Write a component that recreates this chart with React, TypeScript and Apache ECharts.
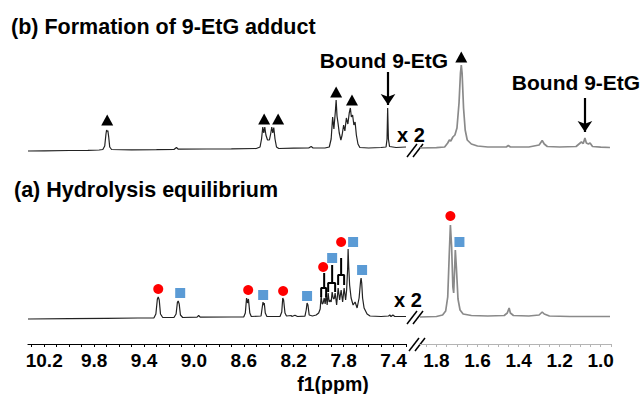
import React, { useEffect, useRef } from "react";
import * as echarts from "echarts";

// ---- spectra: [ppm, intensity above local baseline] ----
const specBLeft: [number, number][] = [
  [10.33, 0], [10.2, 0.2], [10.0, 0.5], [9.85, 0.6], [9.76, 1], [9.73, 1.5], [9.715, 5], [9.705, 17], [9.7, 21], [9.695, 19.5], [9.69, 20.5], [9.683, 14], [9.675, 4], [9.66, 1.5],
  [9.5, 1.2], [9.3, 1.3], [9.16, 1.5], [9.14, 3.5], [9.125, 1.8], [8.9, 2], [8.7, 2.2], [8.5, 2.5],
  [8.47, 4], [8.458, 12], [8.448, 24], [8.44, 18], [8.432, 24], [8.423, 16], [8.41, 11], [8.395, 11], [8.385, 17], [8.376, 24], [8.368, 18], [8.36, 23.5], [8.35, 12], [8.338, 4], [8.32, 2.5],
  [8.2, 2.8], [8.08, 3], [8.06, 4.5], [8.045, 3], [7.95, 3], [7.915, 4], [7.9, 12], [7.888, 34], [7.878, 22], [7.866, 40], [7.86, 51], [7.853, 35], [7.845, 28], [7.835, 18], [7.822, 11],
  [7.812, 16], [7.8, 26], [7.79, 20], [7.778, 33], [7.766, 27], [7.755, 38], [7.746, 43], [7.738, 34], [7.728, 36], [7.718, 26], [7.708, 29], [7.698, 16], [7.685, 7], [7.67, 3.5],
  [7.6, 3], [7.5, 3.5], [7.46, 4], [7.452, 12], [7.447, 43], [7.441, 12], [7.432, 4.5], [7.38, 3.5], [7.3, 4],
];
const specBRight: [number, number][] = [
  [1.88, 0], [1.8, 0.3], [1.76, 1], [1.745, 5], [1.737, 8], [1.73, 7], [1.72, 11], [1.71, 13], [1.7, 20], [1.69, 45], [1.683, 75], [1.679, 83], [1.675, 75], [1.668, 40], [1.66, 18], [1.65, 8], [1.63, 4],
  [1.6, 2], [1.55, 1], [1.46, 1], [1.45, 2.5], [1.44, 1], [1.35, 1], [1.3, 3], [1.285, 7.5], [1.275, 4], [1.26, 1.5], [1.2, 1], [1.12, 1.5], [1.1, 5], [1.094, 6], [1.085, 4.5], [1.077, 10],
  [1.07, 5], [1.06, 4], [1.052, 5], [1.04, 1.5], [1.0, 0.8], [0.955, 0.5],
];
const specALeft: [number, number][] = [
  [10.33, 0], [10.0, 0.3], [9.7, 0.6], [9.45, 1], [9.32, 1.2], [9.305, 5], [9.293, 20], [9.286, 22], [9.278, 19], [9.268, 5], [9.25, 1.5],
  [9.16, 1.5], [9.143, 5], [9.132, 17], [9.126, 18], [9.118, 15], [9.108, 4], [9.09, 1.5], [8.975, 1.8], [8.962, 3.5], [8.95, 1.8], [8.7, 2], [8.6, 2.2],
  [8.588, 6], [8.578, 21], [8.57, 16], [8.563, 20], [8.552, 6], [8.54, 2.5], [8.462, 3], [8.452, 12], [8.446, 17], [8.441, 14], [8.436, 16], [8.428, 6], [8.415, 2.5],
  [8.31, 2.5], [8.296, 7], [8.288, 21], [8.281, 19], [8.27, 6], [8.258, 3], [8.22, 3.5], [8.215, 2.5], [8.19, 3.8], [8.17, 2.5], [8.11, 2.8], [8.1, 9], [8.093, 16], [8.086, 14], [8.076, 4],
  [8.05, 3], [8.02, 4], [8.0, 6], [7.988, 10], [7.98, 23], [7.972, 15], [7.964, 16], [7.956, 21], [7.948, 15], [7.94, 25], [7.932, 14], [7.924, 26], [7.916, 17], [7.908, 19], [7.9, 17],
  [7.892, 27], [7.884, 21], [7.876, 20], [7.868, 26], [7.856, 14], [7.844, 31], [7.832, 19], [7.82, 29], [7.808, 17], [7.796, 31], [7.784, 19], [7.776, 29], [7.768, 50], [7.764, 70],
  [7.759, 52], [7.752, 34], [7.74, 21], [7.724, 14], [7.708, 17], [7.692, 11], [7.676, 21], [7.664, 38], [7.66, 41], [7.655, 36], [7.648, 21], [7.636, 11], [7.612, 5], [7.588, 3],
  [7.5, 2.5], [7.44, 3], [7.43, 4], [7.42, 2.5], [7.405, 4], [7.39, 2.5], [7.3, 2.5],
];
const specARight: [number, number][] = [
  [1.88, 0], [1.8, 0.5], [1.77, 2], [1.755, 6], [1.745, 20], [1.738, 60], [1.732, 92], [1.726, 70], [1.72, 30], [1.716, 24], [1.712, 45], [1.708, 67], [1.703, 50], [1.695, 18], [1.685, 7],
  [1.67, 3], [1.63, 1.5], [1.55, 1], [1.47, 1.5], [1.455, 4], [1.446, 9], [1.44, 4], [1.425, 1.5], [1.35, 1], [1.3, 2], [1.285, 5], [1.275, 3], [1.25, 1], [1.15, 0.5], [0.955, 0.5],
];

// ---- peak markers ----
const trianglesBLeft: [number, number][] = [[9.695, 31], [8.437, 32], [8.325, 32], [7.86, 59], [7.733, 51]];
const trianglesBRight: [number, number][] = [[1.679, 91]];
const circlesALeft: [number, number][] = [[9.286, 30], [8.565, 29], [8.285, 28], [7.964, 52], [7.82, 77]];
const squaresALeft: [number, number][] = [[9.11, 26], [8.445, 24], [8.093, 23], [7.892, 61], [7.724, 77], [7.652, 49]];
const circlesARight: [number, number][] = [[1.732, 101]];
const squaresARight: [number, number][] = [[1.688, 75]];

// multiplet brackets in (a): [leftLeg, rightLeg, stem, bottom, top, stemTop]
const bracketsA: number[][] = [
  [7.98, 7.94, 7.956, 22, 31, 46],
  [7.924, 7.868, 7.892, 27, 36, 54],
  [7.844, 7.796, 7.82, 34, 44, 61],
];
// "Bound 9-EtG" arrows: [ppm, start, end]
const arrowBLeft = [7.444, 79, 46];
const arrowBRight = [1.077, 50, 16];

// axis tick labels
const leftTickLabels = ["10.2", "9.8", "9.4", "9.0", "8.6", "8.2", "7.8", "7.4"];
const rightTickLabels = ["1.8", "1.6", "1.4", "1.2", "1.0"];

// baseline offsets (vertical stacking)
const OFF_B_LEFT = 193;
const OFF_B_RIGHT = 196;
const OFF_A_LEFT = 25;
const OFF_A_RIGHT = 27;

const FONT = '"Liberation Sans", Arial, sans-serif';

const shift = (arr: [number, number][] | number[][], off: number) => arr.map((p) => [p[0], p[1] + off]);

function bracketPath(b: number[], off: number) {
  const [l, r, m, bot, top, st] = b;
  return [[l, bot + off], [l, top + off], [m, top + off], [m, st + off], [m, top + off], [r, top + off], [r, bot + off]];
}

export default function App() {
  const ref = useRef<HTMLDivElement>(null);
  useEffect(() => {
    if (!ref.current) return;
    const chart = echarts.init(ref.current, undefined, { renderer: "svg" });
    const leftLabelSet = new Set(leftTickLabels);
    const rightLabelSet = new Set(rightTickLabels);
    const axisLabelStyle = { fontSize: 19, fontWeight: "bold" as const, fontFamily: FONT, color: "#000", margin: 7 };
    const darkLine = { color: "#222", width: 1.2 };
    const greyLine = { color: "#8a8a8a", width: 1.7 };
    const mk = (color: string) => ({ color, opacity: 1 });

    const series: any[] = [
      { type: "line", xAxisIndex: 0, yAxisIndex: 0, data: shift(specBLeft, OFF_B_LEFT), showSymbol: false, symbol: "none", lineStyle: darkLine, silent: true,
        markLine: { silent: true, symbol: ["none", "arrow"], symbolSize: 11, label: { show: false }, lineStyle: { type: "solid", color: "#000", width: 2.2, opacity: 1 },
          data: [[{ coord: [arrowBLeft[0], arrowBLeft[1] + OFF_B_LEFT] }, { coord: [arrowBLeft[0], arrowBLeft[2] + OFF_B_LEFT] }]] } },
      { type: "line", xAxisIndex: 0, yAxisIndex: 0, data: shift(specALeft, OFF_A_LEFT), showSymbol: false, symbol: "none", lineStyle: darkLine, silent: true },
      { type: "line", xAxisIndex: 1, yAxisIndex: 1, data: shift(specBRight, OFF_B_RIGHT), showSymbol: false, symbol: "none", lineStyle: greyLine, silent: true,
        markLine: { silent: true, symbol: ["none", "arrow"], symbolSize: 11, label: { show: false }, lineStyle: { type: "solid", color: "#000", width: 2.2, opacity: 1 },
          data: [[{ coord: [arrowBRight[0], arrowBRight[1] + OFF_B_RIGHT] }, { coord: [arrowBRight[0], arrowBRight[2] + OFF_B_RIGHT] }]] } },
      { type: "line", xAxisIndex: 1, yAxisIndex: 1, data: shift(specARight, OFF_A_RIGHT), showSymbol: false, symbol: "none", lineStyle: greyLine, silent: true },
      ...bracketsA.map((b) => ({ type: "line", xAxisIndex: 0, yAxisIndex: 0, data: bracketPath(b, OFF_A_LEFT), showSymbol: false, symbol: "none", lineStyle: { color: "#000", width: 2 }, silent: true })),
      { type: "scatter", xAxisIndex: 0, yAxisIndex: 0, data: shift(trianglesBLeft, OFF_B_LEFT), symbol: "triangle", symbolSize: [12, 11], itemStyle: mk("#000"), silent: true },
      { type: "scatter", xAxisIndex: 1, yAxisIndex: 1, data: shift(trianglesBRight, OFF_B_RIGHT), symbol: "triangle", symbolSize: [12, 11], itemStyle: mk("#000"), silent: true },
      { type: "scatter", xAxisIndex: 0, yAxisIndex: 0, data: shift(circlesALeft, OFF_A_LEFT), symbol: "circle", symbolSize: 10, itemStyle: mk("#ff0000"), silent: true },
      { type: "scatter", xAxisIndex: 0, yAxisIndex: 0, data: shift(squaresALeft, OFF_A_LEFT), symbol: "rect", symbolSize: 10, itemStyle: mk("#5b9bd5"), silent: true },
      { type: "scatter", xAxisIndex: 1, yAxisIndex: 1, data: shift(circlesARight, OFF_A_RIGHT), symbol: "circle", symbolSize: 10, itemStyle: mk("#ff0000"), silent: true },
      { type: "scatter", xAxisIndex: 1, yAxisIndex: 1, data: shift(squaresARight, OFF_A_RIGHT), symbol: "rect", symbolSize: 10, itemStyle: mk("#5b9bd5"), silent: true },
    ];

    const txt = (text: string, x: number, y: number, size: number, align: string = "left") => ({
      type: "text", x, y, silent: true,
      style: { text, fontSize: size, fontWeight: "bold", fontFamily: FONT, fill: "#000", align, verticalAlign: "middle", textAlign: align, textVerticalAlign: "middle" },
    });
    const brk = (x: number, y: number) => [
      { type: "line", silent: true, shape: { x1: x, y1: y + 7, x2: x + 10, y2: y - 6 }, style: { stroke: "#000", lineWidth: 1.5 } },
      { type: "line", silent: true, shape: { x1: x + 6, y1: y + 7, x2: x + 16, y2: y - 6 }, style: { stroke: "#000", lineWidth: 1.5 } },
    ];

    chart.setOption({
      animation: false,
      backgroundColor: "#fff",
      grid: [
        { left: 28, width: 378, top: 40, height: 304 },
        { left: 420, width: 191, top: 40, height: 304 },
      ],
      xAxis: [
        { type: "value", gridIndex: 0, min: 7.3, max: 10.33, interval: 0.1, inverse: true, splitLine: { show: false },
          axisLine: { lineStyle: { color: "#000", width: 1.2 } }, axisTick: { length: 3, lineStyle: { color: "#000" } },
          axisLabel: { ...axisLabelStyle, showMinLabel: true, showMaxLabel: false, formatter: (v: number) => { const s = v.toFixed(1); return leftLabelSet.has(s) && Math.abs(v - parseFloat(s)) < 1e-6 ? s : ""; } } },
        { type: "value", gridIndex: 1, min: 0.95, max: 1.88, interval: 0.05, inverse: true, splitLine: { show: false },
          axisLine: { lineStyle: { color: "#b4b4b4", width: 1.2 } }, axisTick: { length: 3, lineStyle: { color: "#b4b4b4" } },
          axisLabel: { ...axisLabelStyle, showMinLabel: true, showMaxLabel: false, formatter: (v: number) => { const s = v.toFixed(1); return rightLabelSet.has(s) && Math.abs(v - parseFloat(s)) < 1e-6 ? s : ""; } } },
      ],
      yAxis: [
        { type: "value", gridIndex: 0, min: 0, max: 304, show: false },
        { type: "value", gridIndex: 1, min: 0, max: 304, show: false },
      ],
      series,
      graphic: [
        txt("(b) Formation of 9-EtG adduct", 11, 27, 21.5),
        txt("(a) Hydrolysis equilibrium", 14, 190, 21.5),
        txt("Bound 9-EtG", 384, 60, 21, "center"),
        txt("Bound 9-EtG", 576, 82, 21, "center"),
        txt("x 2", 411, 135, 20, "center"),
        txt("x 2", 408, 300, 20, "center"),
        txt("f1(ppm)", 333, 384, 19.5, "center"),
        ...brk(407, 150),
        ...brk(407, 317),
        ...brk(409, 344),
      ],
    });
    return () => chart.dispose();
  }, []);
  return <div ref={ref} style={{ position: "fixed", left: 0, top: 0, width: 643, height: 394 }} />;
}
